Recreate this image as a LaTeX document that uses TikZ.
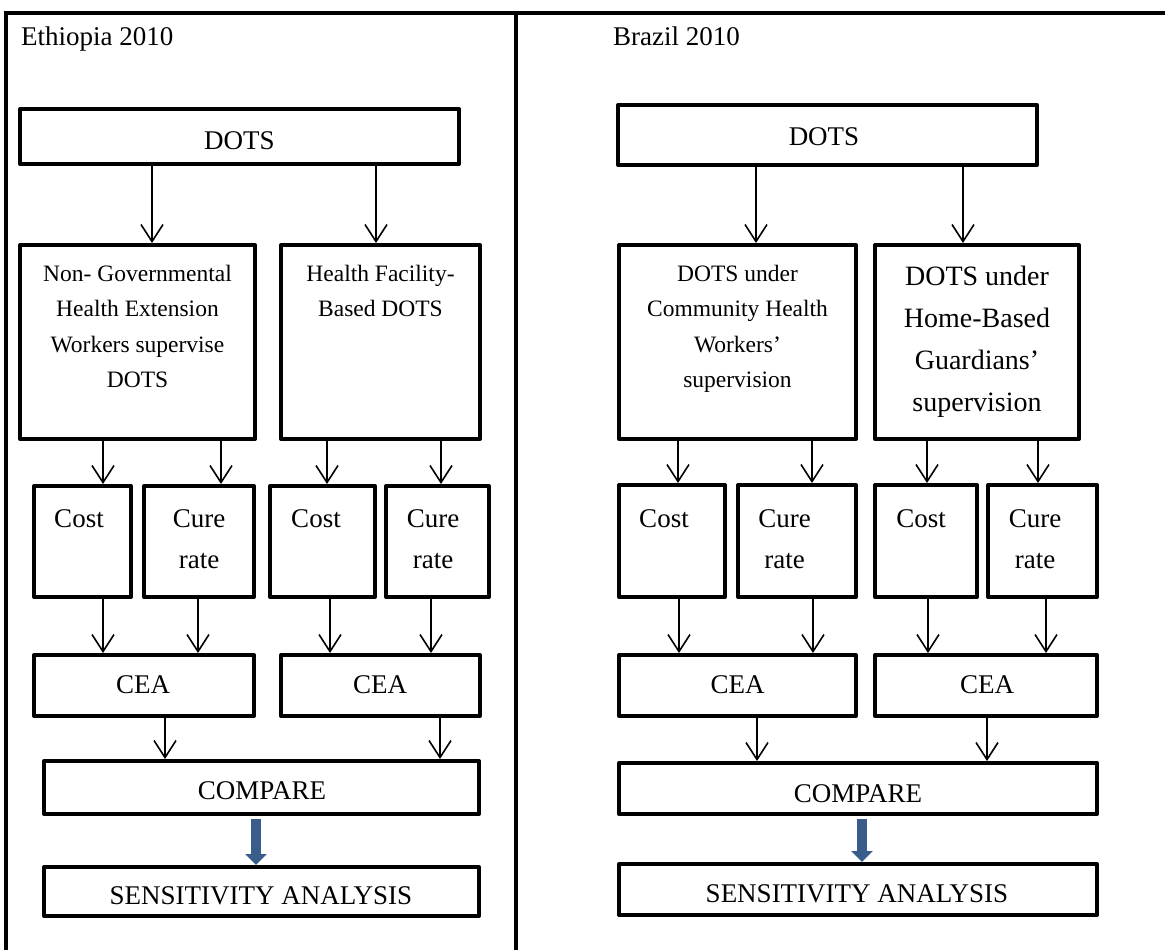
\documentclass[tikz,border=0pt]{standalone}
\usepackage{fontspec}
\setmainfont{Liberation Serif}
\usetikzlibrary{arrows.meta,fit}
\definecolor{flowblue}{RGB}{56,93,138}
\tikzset{
  box/.style={draw, line width=4pt, line join=round, rectangle, inner sep=0pt},
  big/.style={inner sep=0pt, font=\fontsize{27}{41}\selectfont, align=center},
  small/.style={inner sep=0pt, font=\fontsize{23.5}{35.3}\selectfont, align=center},
  medium/.style={inner sep=0pt, font=\fontsize{28}{42}\selectfont, align=center},
  flow/.style={line width=1.6pt, -{Straight Barb[length=17pt,width=22pt,line width=1.6pt]}},
  bigflow/.style={draw=flowblue, line width=10pt, shorten <=3pt,
    -{Triangle[length=11pt,width=21pt,fill=flowblue]}},
  frame/.style={line width=3.5pt}
}
% vertical connector from the bottom of #1 to the top of #2 at abscissa #3
\newcommand\vflow[3]{%
  \draw[flow]
    (perpendicular cs: horizontal line through={(#1.south)}, vertical line through={(#3,0)})
    -- (perpendicular cs: horizontal line through={(#2.north)}, vertical line through={(#3,0)});}
\begin{document}
\begin{tikzpicture}[x=1pt,y=-1pt]
\useasboundingbox (0,0) rectangle (1165,950);
\fill[white] (0,0) rectangle (1165,950);

% outer frame and divider
\draw[frame] (6,950) -- (6,13) -- (1170,13);
\draw[frame] (516,13) -- (516,950);

% ---------------- Ethiopia ----------------
\node[big, anchor=base west] (hdrE) at (21,46) {Ethiopia 2010};

\node[box, fit={(20,109) (459,164)}] (dotsE) {};
\node[big, anchor=base] (dotsEt) at (239.5,149) {DOTS};

\node[box, fit={(20,245) (255,439)}] (ngo) {};
\node[small, anchor=north] (ngot) at (137.5,265)
  {Non- Governmental\\Health Extension\\Workers supervise\\DOTS};
\node[box, fit={(281,245) (480,439)}] (hf) {};
\node[small, anchor=north] (hft) at (380.5,265) {Health Facility-\\Based DOTS};

\node[box, fit={(34,486) (131,597)}] (costE1) {};
\node[big, anchor=base] (costE1t) at (79,527) {Cost};
\node[box, fit={(144,486) (254,597)}] (cureE1) {};
\node[big, anchor=north] (cureE1t) at (199,509) {Cure\\rate};
\node[box, fit={(270,486) (375,597)}] (costE2) {};
\node[big, anchor=base] (costE2t) at (316,527) {Cost};
\node[box, fit={(386,486) (489,597)}] (cureE2) {};
\node[big, anchor=north] (cureE2t) at (433,509) {Cure\\rate};

\node[box, fit={(34,655) (254,716)}] (ceaE1) {};
\node[big, anchor=base] (ceaE1t) at (143,693) {CEA};
\node[box, fit={(281,655) (480,716)}] (ceaE2) {};
\node[big, anchor=base] (ceaE2t) at (380,693) {CEA};

\node[box, fit={(44,761) (479,814)}] (cmpE) {};
\node[big, anchor=base] (cmpEt) at (262,799) {COMPARE};
\node[box, fit={(44,867) (479,916)}] (senE) {};
\node[big, anchor=base] (senEt) at (261,904) {SENSITIVITY ANALYSIS};

\vflow{dotsE}{ngo}{152}
\vflow{dotsE}{hf}{376}
\vflow{ngo}{costE1}{103}
\vflow{ngo}{cureE1}{221}
\vflow{hf}{costE2}{327}
\vflow{hf}{cureE2}{441}
\vflow{costE1}{ceaE1}{103}
\vflow{cureE1}{ceaE1}{198}
\vflow{costE2}{ceaE2}{330}
\vflow{cureE2}{ceaE2}{431}
\vflow{ceaE1}{cmpE}{165}
\vflow{ceaE2}{cmpE}{440}
\draw[bigflow]
  (perpendicular cs: horizontal line through={(cmpE.south)}, vertical line through={(256,0)})
  -- (perpendicular cs: horizontal line through={(senE.north)}, vertical line through={(256,0)});

% ---------------- Brazil ----------------
\node[big, anchor=base west] (hdrB) at (613,46) {Brazil 2010};

\node[box, fit={(618,105) (1037,165)}] (dotsB) {};
\node[big, anchor=base] (dotsBt) at (824,145) {DOTS};

\node[box, fit={(619,245) (856,439)}] (chw) {};
\node[small, anchor=north] (chwt) at (737.5,265)
  {DOTS under\\Community Health\\Workers’\\supervision};
\node[box, fit={(875,245) (1079,439)}] (home) {};
\node[medium, anchor=north] (homet) at (977,266)
  {DOTS under\\Home-Based\\Guardians’\\supervision};

\node[box, fit={(619,485) (725,597)}] (costB1) {};
\node[big, anchor=base] (costB1t) at (664,527) {Cost};
\node[box, fit={(738,485) (856,597)}] (cureB1) {};
\node[big, anchor=north] (cureB1t) at (784.5,509) {Cure\\rate};
\node[box, fit={(875,485) (977,597)}] (costB2) {};
\node[big, anchor=base] (costB2t) at (921,527) {Cost};
\node[box, fit={(988,485) (1097,597)}] (cureB2) {};
\node[big, anchor=north] (cureB2t) at (1035,509) {Cure\\rate};

\node[box, fit={(619,655) (856,716)}] (ceaB1) {};
\node[big, anchor=base] (ceaB1t) at (737.5,693) {CEA};
\node[box, fit={(875,655) (1097,716)}] (ceaB2) {};
\node[big, anchor=base] (ceaB2t) at (987,693) {CEA};

\node[box, fit={(619,763) (1097,814)}] (cmpB) {};
\node[big, anchor=base] (cmpBt) at (858,802) {COMPARE};
\node[box, fit={(619,864) (1097,915)}] (senB) {};
\node[big, anchor=base] (senBt) at (857,902) {SENSITIVITY ANALYSIS};

\vflow{dotsB}{chw}{756}
\vflow{dotsB}{home}{963}
\vflow{chw}{costB1}{678}
\vflow{chw}{cureB1}{812}
\vflow{home}{costB2}{927}
\vflow{home}{cureB2}{1038}
\vflow{costB1}{ceaB1}{679}
\vflow{cureB1}{ceaB1}{813}
\vflow{costB2}{ceaB2}{928}
\vflow{cureB2}{ceaB2}{1046}
\vflow{ceaB1}{cmpB}{757}
\vflow{ceaB2}{cmpB}{987}
\draw[bigflow]
  (perpendicular cs: horizontal line through={(cmpB.south)}, vertical line through={(862,0)})
  -- (perpendicular cs: horizontal line through={(senB.north)}, vertical line through={(862,0)});
\end{tikzpicture}
\end{document}
